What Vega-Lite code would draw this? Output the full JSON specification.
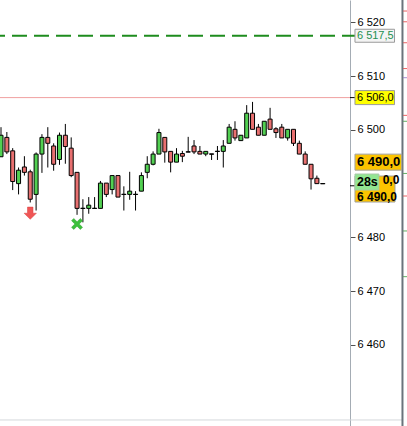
{
  "$schema": "https://vega.github.io/schema/vega-lite/v6.json",
  "width": 350,
  "height": 426,
  "autosize": "none",
  "padding": {"left": 0, "top": 0, "right": 57, "bottom": 0},
  "background": "white",
  "config": {
    "view": {"stroke": null},
    "font": "Liberation Sans",
    "axisY": {"grid": false, "domainColor": "#a4acb4", "tickColor": "#505050", "tickSize": 5, "labelPadding": 2,
      "labelFont": "Liberation Sans", "labelFontSize": 11, "labelColor": "#000000", "titleOpacity": 0,
      "labelExpr": "replace(format(datum.value, ',d'), ',', ' ')"}
  },
  "datasets": {
    "candles": [
      {"i": 0, "o": 6495.0, "h": 6500.5, "l": 6495.0, "c": 6499.0},
      {"i": 1, "o": 6498.6, "h": 6499.6, "l": 6495.5, "c": 6495.9},
      {"i": 2, "o": 6496.1, "h": 6496.6, "l": 6488.8, "c": 6490.4},
      {"i": 3, "o": 6490.0, "h": 6493.0, "l": 6488.0, "c": 6492.5},
      {"i": 4, "o": 6493.1, "h": 6495.1, "l": 6491.5, "c": 6492.1},
      {"i": 5, "o": 6492.2, "h": 6492.6, "l": 6486.5, "c": 6487.1},
      {"i": 6, "o": 6488.0, "h": 6495.8, "l": 6485.0, "c": 6495.5},
      {"i": 7, "o": 6495.5, "h": 6499.2, "l": 6492.0, "c": 6498.6},
      {"i": 8, "o": 6498.6, "h": 6500.5, "l": 6493.0, "c": 6497.5},
      {"i": 9, "o": 6497.0, "h": 6497.5, "l": 6492.4, "c": 6493.6},
      {"i": 10, "o": 6494.5, "h": 6499.5, "l": 6493.5, "c": 6499.0},
      {"i": 11, "o": 6499.0, "h": 6501.1, "l": 6493.7, "c": 6496.9},
      {"i": 12, "o": 6496.6, "h": 6498.6, "l": 6491.2, "c": 6491.5},
      {"i": 13, "o": 6492.1, "h": 6492.1, "l": 6484.2, "c": 6485.4},
      {"i": 14, "o": 6485.4, "h": 6487.1, "l": 6482.8, "c": 6485.4},
      {"i": 15, "o": 6485.4, "h": 6487.5, "l": 6484.4, "c": 6486.0},
      {"i": 16, "o": 6485.4, "h": 6487.5, "l": 6485.4, "c": 6485.4},
      {"i": 17, "o": 6485.4, "h": 6490.5, "l": 6485.4, "c": 6490.1},
      {"i": 18, "o": 6490.1, "h": 6490.1, "l": 6487.5, "c": 6488.0},
      {"i": 19, "o": 6488.9, "h": 6491.5, "l": 6488.0, "c": 6491.5},
      {"i": 20, "o": 6491.5, "h": 6491.5, "l": 6487.5, "c": 6487.5},
      {"i": 21, "o": 6488.0, "h": 6489.5, "l": 6485.0, "c": 6488.0},
      {"i": 22, "o": 6488.0, "h": 6492.2, "l": 6487.0, "c": 6488.6},
      {"i": 23, "o": 6488.0, "h": 6488.6, "l": 6485.0, "c": 6488.0},
      {"i": 24, "o": 6488.6, "h": 6492.1, "l": 6488.6, "c": 6491.5},
      {"i": 25, "o": 6492.1, "h": 6495.1, "l": 6491.0, "c": 6493.6},
      {"i": 26, "o": 6493.6, "h": 6496.0, "l": 6493.4, "c": 6495.5},
      {"i": 27, "o": 6495.5, "h": 6500.2, "l": 6495.5, "c": 6499.5},
      {"i": 28, "o": 6498.6, "h": 6498.6, "l": 6493.9, "c": 6495.9},
      {"i": 29, "o": 6496.0, "h": 6496.0, "l": 6492.1, "c": 6494.0},
      {"i": 30, "o": 6494.0, "h": 6496.6, "l": 6494.0, "c": 6495.5},
      {"i": 31, "o": 6495.6, "h": 6496.1, "l": 6494.0, "c": 6495.1},
      {"i": 32, "o": 6495.9, "h": 6498.7, "l": 6495.9, "c": 6495.9},
      {"i": 33, "o": 6497.0, "h": 6498.1, "l": 6495.5, "c": 6495.9},
      {"i": 34, "o": 6496.0, "h": 6497.0, "l": 6495.5, "c": 6495.5},
      {"i": 35, "o": 6495.5, "h": 6496.0, "l": 6495.1, "c": 6496.0},
      {"i": 36, "o": 6495.5, "h": 6495.5, "l": 6494.4, "c": 6495.5},
      {"i": 37, "o": 6496.0, "h": 6497.0, "l": 6494.4, "c": 6496.0},
      {"i": 38, "o": 6496.0, "h": 6498.1, "l": 6493.0, "c": 6497.0},
      {"i": 39, "o": 6497.5, "h": 6501.1, "l": 6497.5, "c": 6500.5},
      {"i": 40, "o": 6500.1, "h": 6501.6, "l": 6498.0, "c": 6498.5},
      {"i": 41, "o": 6498.0, "h": 6499.0, "l": 6498.0, "c": 6499.0},
      {"i": 42, "o": 6498.5, "h": 6504.6, "l": 6498.5, "c": 6503.1},
      {"i": 43, "o": 6503.1, "h": 6505.2, "l": 6500.1, "c": 6500.1},
      {"i": 44, "o": 6500.5, "h": 6501.1, "l": 6499.0, "c": 6499.0},
      {"i": 45, "o": 6499.0, "h": 6501.6, "l": 6499.0, "c": 6501.6},
      {"i": 46, "o": 6502.0, "h": 6504.1, "l": 6500.1, "c": 6500.1},
      {"i": 47, "o": 6500.2, "h": 6500.5, "l": 6498.5, "c": 6499.5},
      {"i": 48, "o": 6500.5, "h": 6501.1, "l": 6498.5, "c": 6498.5},
      {"i": 49, "o": 6498.5, "h": 6500.1, "l": 6498.0, "c": 6500.1},
      {"i": 50, "o": 6500.1, "h": 6500.1, "l": 6497.0, "c": 6497.5},
      {"i": 51, "o": 6497.5, "h": 6498.0, "l": 6495.5, "c": 6495.5},
      {"i": 52, "o": 6495.5, "h": 6496.0, "l": 6493.6, "c": 6493.6},
      {"i": 53, "o": 6493.6, "h": 6493.6, "l": 6488.9, "c": 6490.9},
      {"i": 54, "o": 6491.0, "h": 6491.5, "l": 6490.0, "c": 6490.0},
      {"i": 55, "o": 6490.0, "h": 6490.0, "l": 6490.0, "c": 6490.0}
    ],
    "sideTicks": [
      {"price": 6522.1, "kind": "sell"},
      {"price": 6520.1, "kind": "sell"},
      {"price": 6516.2, "kind": "sell"},
      {"price": 6511.4, "kind": "sell"},
      {"price": 6509.7, "kind": "other"},
      {"price": 6502.7, "kind": "sell"},
      {"price": 6501.6, "kind": "buy"},
      {"price": 6491.9, "kind": "buy"},
      {"price": 6487.7, "kind": "sell"},
      {"price": 6481.2, "kind": "buy"},
      {"price": 6472.7, "kind": "buy"}
    ]
  },
  "layer": [
    {
      "data": {"name": "candles"},
      "mark": {"type": "rule", "color": "black", "strokeWidth": 1},
      "encoding": {
        "x": {"field": "i", "type": "quantitative", "scale": {"domain": [-0.171, 59.66], "nice": false, "zero": false, "padding": 0}, "axis": null},
        "y": {"field": "l", "type": "quantitative", "title": null, "scale": {"domain": [6444.93, 6524.15], "nice": false, "zero": false, "padding": 0},
          "axis": {"orient": "right", "values": [6460, 6470, 6480, 6500, 6510, 6520]}},
        "y2": {"field": "h"}
      }
    },
    {
      "data": {"name": "candles"},
      "mark": {"type": "bar", "size": 4, "stroke": "black", "strokeWidth": 1},
      "encoding": {
        "x": {"field": "i", "type": "quantitative", "axis": null},
        "y": {"field": "o", "type": "quantitative", "title": null},
        "y2": {"field": "c"},
        "fill": {"condition": {"test": "datum.c >= datum.o", "value": "#52d052"}, "value": "#e87070"}
      }
    },
    {
      "data": {"name": "candles"},
      "transform": [{"filter": "datum.o == datum.c"}],
      "mark": {"type": "tick", "orient": "horizontal", "size": 5, "thickness": 1, "color": "black"},
      "encoding": {
        "x": {"field": "i", "type": "quantitative", "axis": null},
        "y": {"field": "c", "type": "quantitative", "title": null}
      }
    },
    {
      "data": {"values": [{"i": 5, "price": 6484.5}]},
      "mark": {"type": "point", "filled": true, "size": 150, "opacity": 1,
        "shape": "M-0.45,-1 L0.45,-1 L0.45,0 L1,0 L0,1 L-1,0 L-0.45,0 Z",
        "fill": "#f05555", "stroke": "#d84040", "strokeWidth": 0.5},
      "encoding": {
        "x": {"field": "i", "type": "quantitative", "axis": null},
        "y": {"field": "price", "type": "quantitative", "title": null}
      }
    },
    {
      "data": {"values": [{"i": 13, "price": 6482.5}]},
      "mark": {"type": "point", "filled": true, "size": 121, "opacity": 1,
        "shape": "M-1,-0.6 L-0.6,-1 L0,-0.4 L0.6,-1 L1,-0.6 L0.4,0 L1,0.6 L0.6,1 L0,0.4 L-0.6,1 L-1,0.6 L-0.4,0 Z",
        "fill": "#3cc03c", "stroke": "#30a030", "strokeWidth": 0.5},
      "encoding": {
        "x": {"field": "i", "type": "quantitative", "axis": null},
        "y": {"field": "price", "type": "quantitative", "title": null}
      }
    },
    {
      "data": {"values": [{"price": 6506.0}]},
      "mark": {"type": "rule", "color": "#f0a0a0", "strokeWidth": 1},
      "encoding": {
        "y": {"field": "price", "type": "quantitative", "title": null},
        "x": {"datum": -0.171, "axis": null},
        "x2": {"datum": 59.66}
      }
    },
    {
      "data": {"values": [{"price": 6506.0}, {"price": 6489.6}]},
      "mark": {"type": "rule", "color": "#000000", "strokeWidth": 1},
      "encoding": {
        "y": {"field": "price", "type": "quantitative", "title": null},
        "x": {"datum": 59.66, "axis": null},
        "x2": {"datum": 60.51}
      }
    },
    {
      "data": {"values": [{"price": 6517.5}]},
      "mark": {"type": "rule", "color": "#1e8c1e", "strokeWidth": 2, "strokeDash": [15, 7], "strokeDashOffset": 10},
      "encoding": {
        "y": {"field": "price", "type": "quantitative", "title": null},
        "x": {"datum": -0.171, "axis": null},
        "x2": {"datum": 60.51}
      }
    },
    {
      "data": {"values": [{"price": 6446.05}]},
      "mark": {"type": "rule", "color": "#d4d8dc", "strokeWidth": 1},
      "encoding": {
        "y": {"field": "price", "type": "quantitative", "title": null},
        "x": {"datum": -0.171, "axis": null},
        "x2": {"datum": 68.63}
      }
    },
    {
      "data": {"values": [{"edge": 68.63}]},
      "mark": {"type": "rule", "color": "#6a737b", "strokeWidth": 2},
      "encoding": {
        "x": {"field": "edge", "type": "quantitative", "axis": null}
      }
    },
    {
      "data": {"name": "sideTicks"},
      "mark": {"type": "tick", "orient": "horizontal", "size": 4, "thickness": 1},
      "encoding": {
        "x": {"datum": 69.1, "axis": null},
        "y": {"field": "price", "type": "quantitative", "title": null},
        "color": {"field": "kind", "type": "nominal", "legend": null,
          "scale": {"domain": ["sell", "buy", "other"], "range": ["#e02020", "#208a20", "#8060c0"]}}
      }
    },
    {
      "data": {"values": [{"price": 6517.5, "label": "6 517,5"}]},
      "mark": {"type": "bar", "size": 13, "fill": "#f4f4f4", "stroke": "#9a9a9a", "strokeWidth": 1},
      "encoding": {"y": {"field": "price", "type": "quantitative", "title": null}, "x": {"datum": 60.51, "axis": null}, "x2": {"datum": 67.27}}
    },
    {
      "data": {"values": [{"price": 6517.5, "label": "6 517,5"}]},
      "mark": {"type": "text", "align": "left", "baseline": "middle", "fontSize": 11, "color": "#1e9050", "font": "Liberation Sans"},
      "encoding": {"y": {"field": "price", "type": "quantitative", "title": null}, "x": {"datum": 60.85, "axis": null}, "text": {"field": "label"}}
    },
    {
      "data": {"values": [{"price": 6506.0, "label": "6 506,0"}]},
      "mark": {"type": "bar", "size": 14, "fill": "#ffff00", "stroke": "#9a9a9a", "strokeWidth": 1},
      "encoding": {"y": {"field": "price", "type": "quantitative", "title": null}, "x": {"datum": 60.51, "axis": null}, "x2": {"datum": 67.27}}
    },
    {
      "data": {"values": [{"price": 6506.0, "label": "6 506,0"}]},
      "mark": {"type": "text", "align": "left", "baseline": "middle", "fontSize": 11, "color": "#000000", "font": "Liberation Sans"},
      "encoding": {"y": {"field": "price", "type": "quantitative", "title": null}, "x": {"datum": 60.85, "axis": null}, "text": {"field": "label"}}
    },
    {
      "data": {"values": [{"price": 6489.0}]},
      "mark": {"type": "bar", "size": 26, "fill": "#fcc400", "stroke": "#a0a0a0", "strokeWidth": 1},
      "encoding": {"y": {"field": "price", "type": "quantitative", "title": null}, "x": {"datum": 60.51, "axis": null}, "x2": {"datum": 67.35}}
    },
    {
      "data": {"values": [{"price": 6490.7, "label": "0,0"}]},
      "mark": {"type": "text", "align": "left", "baseline": "middle", "fontSize": 12, "fontWeight": "bold", "color": "#000000", "font": "Liberation Sans"},
      "encoding": {"y": {"field": "price", "type": "quantitative", "title": null}, "x": {"datum": 65.25, "axis": null}, "text": {"field": "label"}}
    },
    {
      "data": {"values": [{"price": 6487.5, "label": "6 490,0"}]},
      "mark": {"type": "text", "align": "left", "baseline": "middle", "fontSize": 12, "fontWeight": "bold", "color": "#000000", "font": "Liberation Sans"},
      "encoding": {"y": {"field": "price", "type": "quantitative", "title": null}, "x": {"datum": 60.85, "axis": null}, "text": {"field": "label"}}
    },
    {
      "data": {"values": [{"price": 6490.3, "label": "28s"}]},
      "mark": {"type": "bar", "size": 16, "fill": "#92e692", "stroke": "#a8c8a8", "strokeWidth": 1},
      "encoding": {"y": {"field": "price", "type": "quantitative", "title": null}, "x": {"datum": 60.51, "axis": null}, "x2": {"datum": 64.6}}
    },
    {
      "data": {"values": [{"price": 6490.3, "label": "28s"}]},
      "mark": {"type": "text", "align": "left", "baseline": "middle", "fontSize": 12.5, "fontWeight": "bold", "color": "#000000", "font": "Liberation Sans"},
      "encoding": {"y": {"field": "price", "type": "quantitative", "title": null}, "x": {"datum": 60.85, "axis": null}, "text": {"field": "label"}}
    },
    {
      "data": {"values": [{"price": 6494.0, "label": "6 490,0"}]},
      "mark": {"type": "bar", "size": 16, "fill": "#fcc400", "stroke": "#a0a0a0", "strokeWidth": 1},
      "encoding": {"y": {"field": "price", "type": "quantitative", "title": null}, "x": {"datum": 60.51, "axis": null}, "x2": {"datum": 68.5}}
    },
    {
      "data": {"values": [{"price": 6494.0, "label": "6 490,0"}]},
      "mark": {"type": "text", "align": "left", "baseline": "middle", "fontSize": 13, "fontWeight": "bold", "color": "#000000", "font": "Liberation Sans"},
      "encoding": {"y": {"field": "price", "type": "quantitative", "title": null}, "x": {"datum": 60.85, "axis": null}, "text": {"field": "label"}}
    }
  ]
}
